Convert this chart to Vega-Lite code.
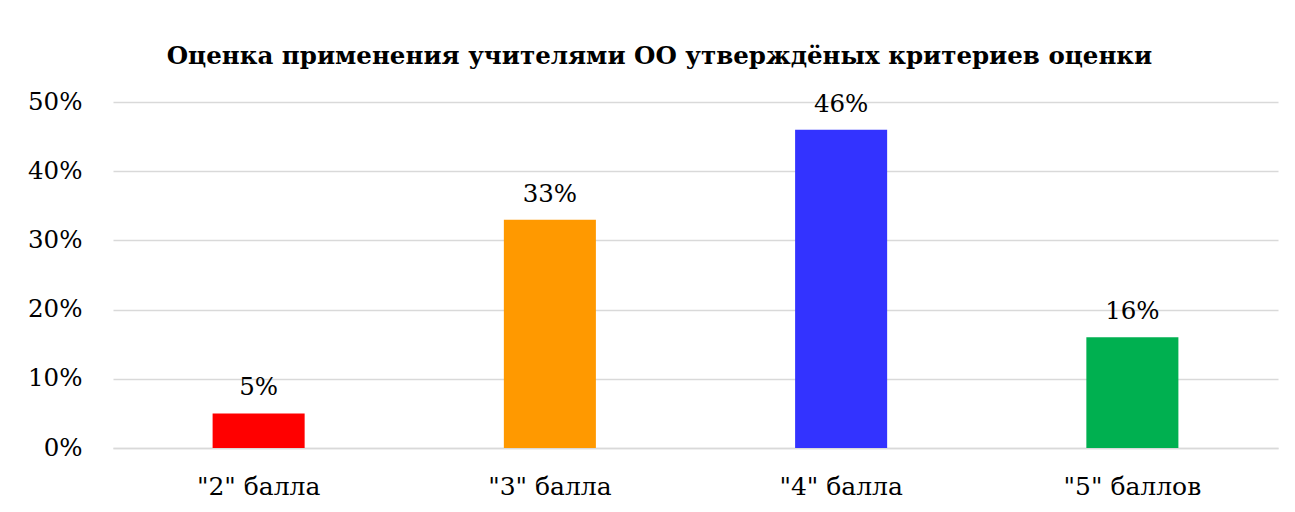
{
  "$schema": "https://vega.github.io/schema/vega-lite/v6.json",
  "width": 1165,
  "height": 346,
  "autosize": {"type": "none"},
  "padding": {"left": 113, "top": 102, "right": 17, "bottom": 64},
  "background": "white",
  "config": {
    "view": {"stroke": null},
    "font": "DejaVu Serif"
  },
  "title": {
    "text": "Оценка применения учителями ОО утверждёных критериев оценки",
    "font": "DejaVu Serif",
    "fontSize": 24.5,
    "fontWeight": "bold",
    "color": "#000000",
    "anchor": "middle",
    "frame": "group",
    "dx": -36,
    "baseline": "alphabetic",
    "offset": 1
  },
  "data": {
    "values": [
      {"cat": "\"2\" балла", "value": 0.05, "color": "#FF0000"},
      {"cat": "\"3\" балла", "value": 0.33, "color": "#FF9900"},
      {"cat": "\"4\" балла", "value": 0.46, "color": "#3333FF"},
      {"cat": "\"5\" баллов", "value": 0.16, "color": "#00B050"}
    ]
  },
  "encoding": {
    "x": {
      "field": "cat",
      "type": "nominal",
      "sort": null,
      "scale": {"paddingInner": 0.684, "paddingOuter": 0.342},
      "axis": {
        "title": null,
        "labelAngle": 0,
        "labelFont": "DejaVu Serif",
        "labelFontSize": 25,
        "labelColor": "#000000",
        "labelBaseline": "alphabetic",
        "labelPadding": 46,
        "ticks": false,
        "domainColor": "#D9D9D9",
        "domainWidth": 1.5
      }
    },
    "y": {
      "field": "value",
      "type": "quantitative",
      "scale": {"domain": [0, 0.5]},
      "axis": {
        "title": null,
        "format": ".0%",
        "values": [0, 0.1, 0.2, 0.3, 0.4, 0.5],
        "labelFont": "DejaVu Serif",
        "labelFontSize": 24.5,
        "labelColor": "#000000",
        "labelPadding": 31,
        "ticks": false,
        "domain": false,
        "gridColor": "#D9D9D9",
        "gridWidth": 1.5
      }
    }
  },
  "layer": [
    {
      "mark": {"type": "bar"},
      "encoding": {
        "color": {"field": "color", "type": "nominal", "scale": null}
      }
    },
    {
      "mark": {
        "type": "text",
        "baseline": "alphabetic",
        "dy": -18,
        "font": "DejaVu Serif",
        "fontSize": 24.5,
        "color": "#000000"
      },
      "encoding": {
        "text": {"field": "value", "type": "quantitative", "format": ".0%"}
      }
    }
  ]
}
